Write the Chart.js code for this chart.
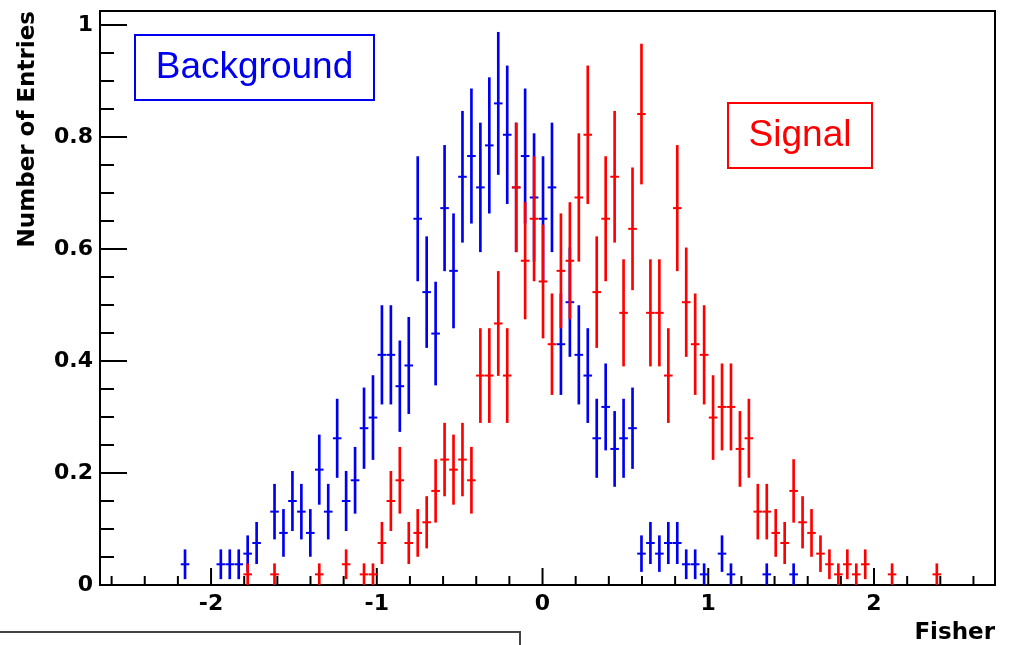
<!DOCTYPE html>
<html>
<head>
<meta charset="utf-8">
<script src="https://cdn.jsdelivr.net/npm/chart.js@4/dist/chart.umd.min.js"></script>
<style>
html,body{margin:0;padding:0;background:#ffffff;}
#wrap{width:1009px;height:645px;position:relative;overflow:hidden;}
</style>
</head>
<body>
<div id="wrap"><canvas id="c" width="1009" height="645"></canvas></div>
<script>
// Histogram binning (100 bins)
const xMin = -2.67;
const xMax = 2.73;
const nBins = 100;

// Background (blue) bin contents, bins 0..99
const backgroundValues = [
  0,0,0,0,0,0,0,0,0,.037,
  0,0,0,.037,.037,.037,.056,.075,0,.131,
  .093,.150,.131,.093,.206,.131,.262,.150,.187,.280,
  .299,.411,.411,.355,.392,.654,.523,.449,.673,.561,
  .729,.766,.710,.785,.860,.804,.710,.766,.692,.654,
  .710,.430,.505,.411,.374,.262,.318,.243,.262,.280,
  .056,.075,.056,.075,.075,.037,.037,.019,0,.056,
  .019,0,0,0,.019,0,0,.019,0,0,
  0,0,0,0,0,0,0,0,0,0,
  0,0,0,0,0,0,0,0,0,0
];
const backgroundErrors = [
  0,0,0,0,0,0,0,0,0,.026,
  0,0,0,.026,.026,.026,.032,.037,0,.049,
  .042,.053,.049,.042,.062,.049,.070,.053,.059,.072,
  .075,.088,.088,.081,.086,.111,.099,.092,.112,.102,
  .117,.120,.115,.121,.127,.123,.115,.120,.114,.111,
  .115,.090,.097,.088,.084,.070,.077,.067,.070,.072,
  .032,.037,.032,.037,.037,.026,.026,.019,0,.032,
  .019,0,0,0,.019,0,0,.019,0,0,
  0,0,0,0,0,0,0,0,0,0,
  0,0,0,0,0,0,0,0,0,0
];

// Signal (red) bin contents, bins 0..99
const signalValues = [
  0,0,0,0,0,0,0,0,0,0,
  0,0,0,0,0,0,.019,0,0,.019,
  0,0,0,0,.019,0,0,.037,0,.019,
  .019,.075,.150,.187,.075,.093,.112,.168,.224,.206,
  .224,.187,.374,.374,.467,.374,.710,.579,.654,.542,
  .430,.561,.579,.692,.804,.523,.654,.729,.486,.636,
  .841,.486,.486,.374,.673,.505,.430,.411,.299,.318,
  .318,.243,.262,.131,.131,.093,.075,.168,.112,.093,
  .056,.037,.019,.037,.019,.037,0,0,.019,0,
  0,0,0,.019,0,0,0,0,0,0
];
const signalErrors = [
  0,0,0,0,0,0,0,0,0,0,
  0,0,0,0,0,0,.019,0,0,.019,
  0,0,0,0,.019,0,0,.026,0,.019,
  .019,.037,.053,.059,.037,.042,.046,.056,.065,.062,
  .065,.059,.084,.084,.093,.084,.115,.104,.111,.101,
  .090,.102,.104,.114,.123,.099,.111,.117,.095,.109,
  .125,.095,.095,.084,.112,.097,.090,.088,.075,.077,
  .077,.067,.070,.049,.049,.042,.037,.056,.046,.042,
  .032,.026,.019,.026,.019,.026,0,0,.019,0,
  0,0,0,.019,0,0,0,0,0,0
];

const xTickValues = [-2, -1, 0, 1, 2];
const xTickLabels = ['-2', '-1', '0', '1', '2'];
const yTickValues = [0, 0.2, 0.4, 0.6, 0.8, 1];
const yTickLabels = ['0', '0.2', '0.4', '0.6', '0.8', '1'];
const yMax = 1.025;

const BLUE = '#0000f0';
const RED = '#ff0000';

const binWidth = (xMax - xMin) / nBins;
function buildSeries(values, errors) {
  const bars = [], pts = [];
  values.forEach((v, i) => {
    if (v > 0) {
      const xc = xMin + (i + 0.5) * binWidth;
      bars.push({x: xc, y: [Math.max(0, v - errors[i]), v + errors[i]]});
      pts.push({x: xc, y: v});
    }
  });
  return {bars, pts};
}
const bg = buildSeries(backgroundValues, backgroundErrors);
const sig = buildSeries(signalValues, signalErrors);

const AXIS_FONT = {family: '"DejaVu Sans", sans-serif', weight: 'bold', size: 22, lineHeight: 1};

const decorPlugin = {
  id: 'decor',
  beforeDatasetsDraw(chart) {
    const {ctx, chartArea: a, scales: {x, y}} = chart;
    ctx.save();
    ctx.strokeStyle = '#000';
    ctx.lineWidth = 2;
    // frame (top and right)
    ctx.beginPath();
    ctx.moveTo(a.left, a.top);
    ctx.lineTo(a.right, a.top);
    ctx.lineTo(a.right, a.bottom);
    ctx.stroke();
    // x ticks: major every 1, minor every 0.2
    for (let k = -13; k <= 13; k++) {
      const v = k * 0.2;
      if (v < xMin || v > xMax) continue;
      const px = x.getPixelForValue(v);
      const len = (k % 5 === 0) ? 17 : 9;
      ctx.beginPath();
      ctx.moveTo(px, a.bottom);
      ctx.lineTo(px, a.bottom - len);
      ctx.stroke();
    }
    // y ticks: major every 0.2, minor every 0.05
    for (let k = 0; k <= 20; k++) {
      const v = k * 0.05;
      const py = y.getPixelForValue(v);
      const len = (k % 4 === 0) ? 27 : 14;
      ctx.beginPath();
      ctx.moveTo(a.left, py);
      ctx.lineTo(a.left + len, py);
      ctx.stroke();
    }
    ctx.restore();
  },
  afterDraw(chart) {
    const {ctx} = chart;
    ctx.save();
    // Background label box
    ctx.lineWidth = 2;
    ctx.strokeStyle = BLUE;
    ctx.strokeRect(135, 35, 239, 65);
    ctx.fillStyle = BLUE;
    ctx.font = '37px "Liberation Sans", Arial, sans-serif';
    ctx.textAlign = 'center';
    ctx.textBaseline = 'middle';
    ctx.fillText('Background', 254.5, 68);
    // Signal label box
    ctx.strokeStyle = RED;
    ctx.strokeRect(728, 103, 144, 65);
    ctx.fillStyle = RED;
    ctx.fillText('Signal', 800, 136);
    // lower-left box outline
    ctx.strokeStyle = '#444';
    ctx.lineWidth = 2;
    ctx.beginPath();
    ctx.moveTo(0, 632);
    ctx.lineTo(520, 632);
    ctx.lineTo(520, 646);
    ctx.stroke();
    ctx.restore();
  }
};

new Chart(document.getElementById('c').getContext('2d'), {
  type: 'scatter',
  data: {
    datasets: [
      {type: 'bar', label: 'Signal errors', data: sig.bars, backgroundColor: RED, borderWidth: 0,
       grouped: false, maxBarThickness: 2, barThickness: 2, order: 0},
      {type: 'scatter', label: 'Signal', data: sig.pts, pointStyle: 'line', pointRadius: 4.3,
       pointBorderColor: RED, pointBackgroundColor: RED, pointBorderWidth: 2, borderColor: RED, order: 0},
      {type: 'bar', label: 'Background errors', data: bg.bars, backgroundColor: BLUE, borderWidth: 0,
       grouped: false, maxBarThickness: 2, barThickness: 2, order: 1},
      {type: 'scatter', label: 'Background', data: bg.pts, pointStyle: 'line', pointRadius: 4.3,
       pointBorderColor: BLUE, pointBackgroundColor: BLUE, pointBorderWidth: 2, borderColor: BLUE, order: 1}
    ]
  },
  options: {
    responsive: false,
    animation: false,
    devicePixelRatio: 1,
    events: [],
    layout: {padding: {top: 11, right: 14, left: 0, bottom: 0}},
    plugins: {legend: {display: false}, tooltip: {enabled: false}},
    scales: {
      x: {
        type: 'linear', min: xMin, max: xMax, offset: false,
        afterFit: (s) => { s.height = 60; s.paddingLeft = 0; s.paddingRight = 0; },
        afterBuildTicks: (s) => { s.ticks = xTickValues.map(v => ({value: v})); },
        ticks: {callback: (v, i) => xTickLabels[i], font: AXIS_FONT, color: '#000', padding: 8,
                maxRotation: 0, autoSkip: false},
        grid: {display: true, drawOnChartArea: false, drawTicks: false, offset: false},
        border: {display: true, color: '#000', width: 2},
        title: {display: true, text: 'Fisher', align: 'end', color: '#000',
                font: {family: '"DejaVu Sans", sans-serif', weight: 'bold', size: 23, lineHeight: 1},
                padding: {top: 0, bottom: 0}}
      },
      y: {
        type: 'linear', min: 0, max: yMax,
        afterFit: (s) => { s.width = 100; s.paddingTop = 0; s.paddingBottom = 0; },
        afterBuildTicks: (s) => { s.ticks = yTickValues.map(v => ({value: v})); },
        ticks: {callback: (v, i) => yTickLabels[i], font: AXIS_FONT, color: '#000', padding: 7, autoSkip: false},
        grid: {display: true, drawOnChartArea: false, drawTicks: false},
        border: {display: true, color: '#000', width: 2},
        title: {display: true, text: 'Number of Entries', align: 'end', color: '#000',
                font: {family: '"DejaVu Sans", sans-serif', weight: 'bold', size: 23, lineHeight: 1},
                padding: {top: 17, bottom: 0}}
      }
    }
  },
  plugins: [decorPlugin]
});
</script>
</body>
</html>
